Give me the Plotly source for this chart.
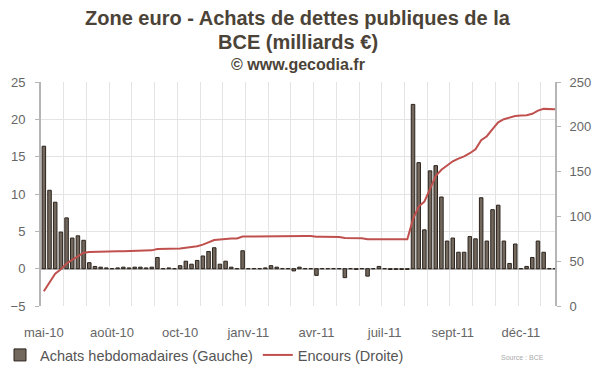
import pandas as pd
import plotly.graph_objects as go

# Weekly categories (week starting)
weeks = pd.date_range("2010-05-10", periods=91, freq="7D")

# Weekly purchases (bn €, left axis)
achats = [
    16.4, 10.5, 8.9, 4.9, 6.8, 4.1, 4.4, 3.8, 0.8, 0.3,
    0.2, 0.1, 0.0, 0.1, 0.2, 0.1, 0.2, 0.2, 0.1, 0.2,
    1.5, 0.0, 0.1, 0.0, 0.4, 1.0, 0.6, 1.1, 1.7, 2.3,
    2.8, 0.6, 1.0, 0.2, 0.0, 2.4, 0.0, 0.0, 0.0, 0.1,
    0.4, 0.2, 0.0, 0.0, -0.3, 0.2, 0.0, 0.0, -0.9, 0.0,
    0.0, 0.0, 0.0, -1.2, 0.0, -0.1, 0.0, -1.0, 0.0, 0.3,
    0.0, -0.1, -0.1, -0.1, -0.1, 22.0, 14.2, 5.2, 13.1, 13.8,
    9.6, 3.7, 4.1, 2.2, 2.2, 4.3, 4.0, 9.5, 3.7, 7.9,
    8.5, 3.7, 0.7, 3.3, 0.0, 0.3, 1.5, 3.7, 2.2, 0.0,
    0.0,
]

# Outstanding holdings (bn €, right axis)
encours = [
    16.5, 27.0, 36.0, 41.0, 47.5, 51.5, 56.0, 59.5, 60.3, 60.6,
    60.8, 60.9, 60.9, 61.1, 61.2, 61.4, 61.5, 61.7, 61.8, 62.1,
    63.6, 63.6, 63.7, 63.7, 64.1, 65.1, 65.7, 66.8, 68.5, 70.8,
    73.6, 74.2, 75.2, 75.4, 75.4, 77.5, 77.5, 77.6, 77.6, 77.8,
    78.2, 78.4, 78.4, 78.4, 78.0, 78.1, 78.1, 78.1, 77.2, 77.2,
    77.1, 77.1, 77.1, 75.8, 75.8, 75.7, 75.7, 74.6, 74.6, 74.8,
    74.8, 74.7, 74.6, 74.5, 74.4, 97.0, 111.0, 116.5, 131.0, 145.0,
    152.0, 156.5, 161.5, 164.5, 167.0, 170.5, 175.0, 185.0, 189.5, 197.5,
    205.0, 208.5, 210.0, 212.0, 212.5, 213.0, 214.5, 218.0, 220.0, 219.8,
    219.5,
]

tick_labels = ["mai-10", "août-10", "oct-10", "janv-11", "avr-11", "juil-11", "sept-11", "déc-11"]
tick_dates = ["2010-05-10", "2010-08-02", "2010-10-25", "2011-01-17",
              "2011-04-11", "2011-07-04", "2011-09-26", "2011-12-19"]

x = list(range(len(weeks)))
tick_pos = [list(weeks.strftime("%Y-%m-%d")).index(d) for d in tick_dates]

FONT = "Liberation Sans, Arial, sans-serif"
W, H = 600, 372

fig = go.Figure()
fig.add_trace(go.Bar(
    x=x, y=achats, name="Achats hebdomadaires (Gauche)",
    marker=dict(color="#73685e", line=dict(color="#2b231c", width=1)),
    width=0.62, yaxis="y",
))
fig.add_trace(go.Scatter(
    x=x, y=encours, name="Encours (Droite)", mode="lines",
    line=dict(color="#c0504d", width=2), yaxis="y2",
))

fig.update_layout(
    width=W, height=H,
    margin=dict(l=41, r=45, t=82, b=66, autoexpand=False),
    paper_bgcolor="white", plot_bgcolor="white",
    font=dict(family=FONT, size=13, color="#555555"),
    showlegend=True,
    legend=dict(orientation="h", xref="container", yref="container",
                x=-1 / W, y=(H - 355) / H, xanchor="left", yanchor="middle",
                font=dict(size=14.5, color="#555555"), bgcolor="rgba(0,0,0,0)",
                itemwidth=30),
    xaxis=dict(
        range=[-0.5, 90.0], tickmode="array", tickvals=tick_pos, ticktext=tick_labels,
        showgrid=False, zeroline=False, showline=False, ticks="",
        tickfont=dict(size=13, color="#666666"), ticklabelstandoff=17,
        minor=dict(tickmode="linear", tick0=-0.5, dtick=4, showgrid=True,
                   gridcolor="#e4e4e4", gridwidth=1, ticks=""),
    ),
    yaxis=dict(
        range=[-5, 25], dtick=5, showgrid=True, gridcolor="#e4e4e4",
        zeroline=True, zerolinecolor="#b5b5b5", zerolinewidth=1.5,
        showline=True, linecolor="#b5b5b5", linewidth=2,
        ticks="outside", ticklen=4, tickcolor="#b5b5b5",
        tickfont=dict(size=13, color="#666666"), ticklabelstandoff=7,
    ),
    yaxis2=dict(
        range=[0, 250], dtick=50, overlaying="y", side="right", showgrid=False,
        zeroline=False, showline=True, linecolor="#b5b5b5", linewidth=2,
        ticks="outside", ticklen=4, tickcolor="#b5b5b5",
        tickfont=dict(size=13, color="#666666"), ticklabelstandoff=6,
    ),
    bargap=0.3,
)

title_color = "#4b4337"
fig.add_annotation(text="<b>Zone euro - Achats de dettes publiques de la</b>", xref="paper", yref="paper",
                   x=0.5, y=(306 - 18) / 224, xanchor="center", yanchor="middle", showarrow=False,
                   font=dict(family=FONT, size=20, color=title_color))
fig.add_annotation(text="<b>BCE (milliards €)</b>", xref="paper", yref="paper",
                   x=0.5, y=(306 - 42) / 224, xanchor="center", yanchor="middle", showarrow=False,
                   font=dict(family=FONT, size=20, color=title_color))
fig.add_annotation(text="<b>© www.gecodia.fr</b>", xref="paper", yref="paper",
                   x=0.5, y=(306 - 64) / 224, xanchor="center", yanchor="middle", showarrow=False,
                   font=dict(family=FONT, size=16, color=title_color))
fig.add_annotation(text="Source : BCE", xref="paper", yref="paper",
                   x=(546 - 41) / 514, y=(306 - 357) / 224, xanchor="right", yanchor="middle",
                   showarrow=False, font=dict(family=FONT, size=7, color="#aaaaaa"))

fig.write_html("out.html")
